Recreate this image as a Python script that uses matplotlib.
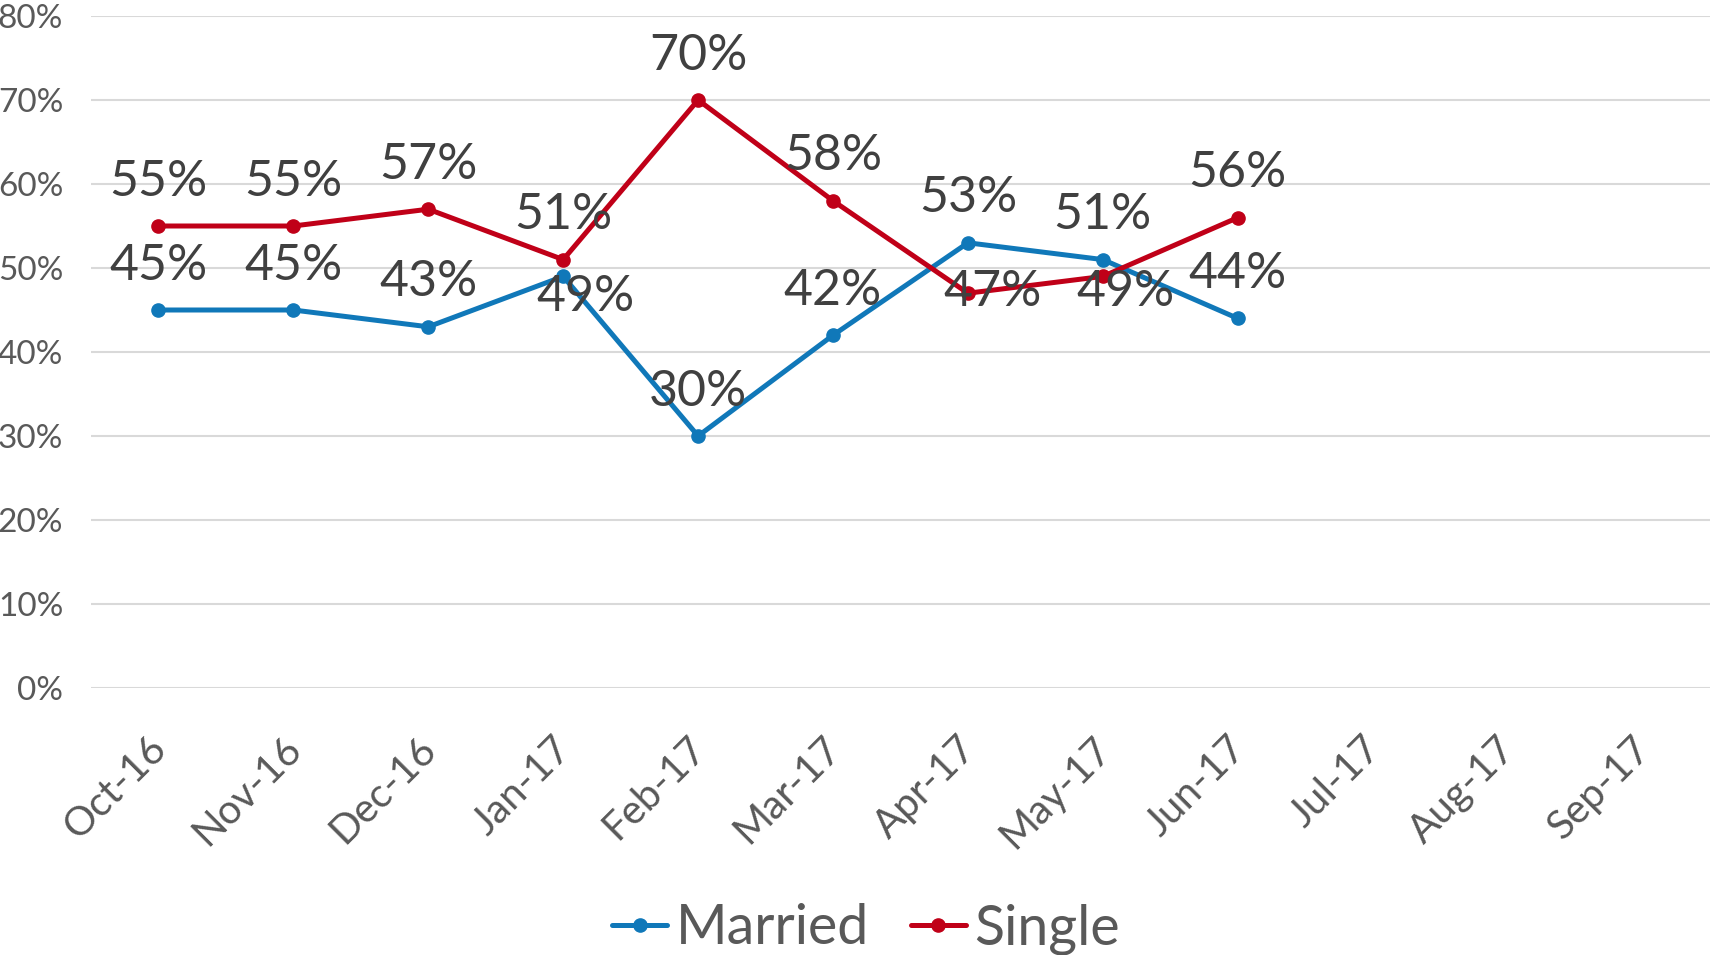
import matplotlib
matplotlib.use("Agg")
import matplotlib.pyplot as plt
from matplotlib.ticker import PercentFormatter
from matplotlib.transforms import ScaledTranslation

# data
months = ["Oct-16", "Nov-16", "Dec-16", "Jan-17", "Feb-17", "Mar-17",
          "Apr-17", "May-17", "Jun-17", "Jul-17", "Aug-17", "Sep-17"]
married = [45, 45, 43, 49, 30, 42, 53, 51, 44]
single = [55, 55, 57, 51, 70, 58, 47, 49, 56]

# label offsets in points (most labels sit above their point)
above = (0, 32)
married_offsets = [above, above, above, (16, -15), above, above, above, above, above]
single_offsets = [above, above, above, above, above, above, (18, 1), (16, -11), above]

BLUE = "#1078B9"
RED = "#C00018"
GRID = "#D9D9D9"
TICK = "#595959"
LABEL = "#404040"

plt.rcParams["font.family"] = ["Lato", "DejaVu Sans"]

fig = plt.figure(figsize=(17.1, 9.55), dpi=100)
ax = fig.add_axes([91 / 1710, 1 - 688 / 955, 1 - 91 / 1710, (688 - 16) / 955])

x = list(range(len(months)))
ax.plot(x[:len(married)], married, color=BLUE, lw=3.6, marker="o", ms=9.5,
        label="Married", solid_capstyle="round", zorder=3)
ax.plot(x[:len(single)], single, color=RED, lw=3.6, marker="o", ms=9.5,
        label="Single", solid_capstyle="round", zorder=3)

for vals, offs in ((married, married_offsets), (single, single_offsets)):
    for i, (v, off) in enumerate(zip(vals, offs)):
        ax.annotate(f"{v}%", (i, v), xytext=off, textcoords="offset points",
                    ha="center", va="center", fontsize=36, color=LABEL, zorder=4)

ax.set_xlim(-0.5, len(months) - 0.5)
ax.set_ylim(0, 80)
ax.set_yticks(range(0, 81, 10))
ax.yaxis.set_major_formatter(PercentFormatter(decimals=0))
ax.grid(axis="y", color=GRID, lw=1.5)
ax.set_axisbelow(True)
for s in ax.spines.values():
    s.set_visible(False)

ax.set_xticks(x)
ax.set_xticklabels(months, rotation=45, ha="right")
ax.tick_params(axis="x", length=0, pad=30, labelsize=29, labelcolor=TICK)
ax.tick_params(axis="y", length=0, pad=20, labelsize=24, labelcolor=TICK)
shift = ScaledTranslation(15 / 100, 0, fig.dpi_scale_trans)
for lbl in ax.get_xticklabels():
    lbl.set_transform(lbl.get_transform() + shift)

leg = fig.legend(loc="center", bbox_to_anchor=(866 / 1710, 1 - 929 / 955), ncol=2,
                 frameon=False, fontsize=40, handlelength=1.0, handletextpad=0.15,
                 columnspacing=0.75, borderaxespad=0)
for t in leg.get_texts():
    t.set_color(TICK)

fig.savefig("out.png", dpi=100)
